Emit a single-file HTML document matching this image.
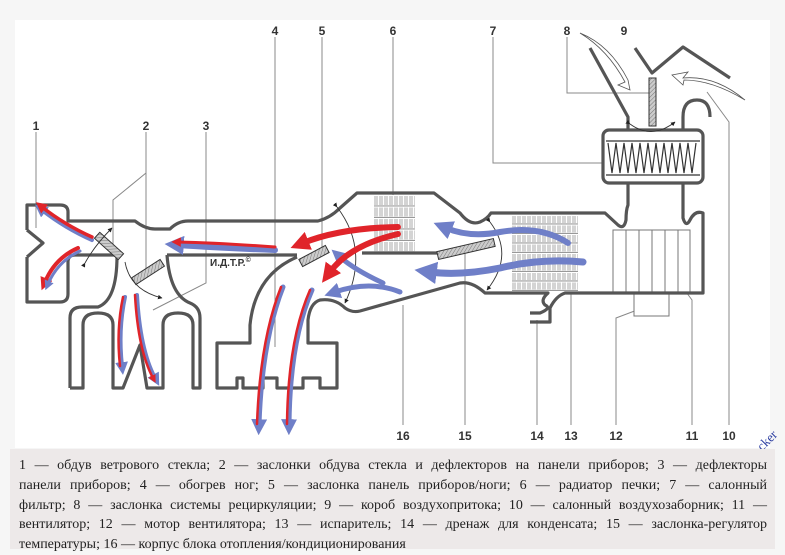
<!DOCTYPE html>
<html><head><meta charset="utf-8"><style>
html,body{margin:0;padding:0;background:#f6f6f6;width:785px;height:549px;overflow:hidden}
.cap{position:absolute;left:10px;top:449px;width:765px;height:100px;background:#ede9e9;padding:7px 8px 0 9px;box-sizing:border-box;font-family:"Liberation Serif","Noto Serif CJK SC",serif;font-size:14px;line-height:19.8px;color:#222;white-space:nowrap}
.cap div{text-align:justify;text-align-last:justify;white-space:normal}
.cap div.last{text-align-last:left}
</style></head><body>
<svg width="785" height="449" style="position:absolute;left:0;top:0" xmlns="http://www.w3.org/2000/svg">
<defs>
<pattern id="hatch" width="3" height="3" patternUnits="userSpaceOnUse" patternTransform="rotate(45)"><rect width="3" height="3" fill="#ccc"/><line x1="0" y1="0" x2="0" y2="3" stroke="#777" stroke-width="1"/></pattern>
<pattern id="grid" width="5" height="11.5" patternUnits="userSpaceOnUse" x="374" y="195"><rect width="5" height="11.5" fill="#fff"/><line x1="1" y1="1" x2="1" y2="10" stroke="#aaa" stroke-width="1"/><line x1="3" y1="1" x2="3" y2="10" stroke="#aaa" stroke-width="1"/><line x1="0" y1="11" x2="5" y2="11" stroke="#999" stroke-width="1.2"/></pattern>
<pattern id="grid2" width="5" height="9.5" patternUnits="userSpaceOnUse" x="512" y="215"><rect width="5" height="9.5" fill="#fff"/><line x1="1" y1="1" x2="1" y2="8" stroke="#aaa" stroke-width="1"/><line x1="3" y1="1" x2="3" y2="8" stroke="#aaa" stroke-width="1"/><line x1="0" y1="9" x2="5" y2="9" stroke="#999" stroke-width="1.2"/></pattern>
<marker id="ah" viewBox="0 0 10 10" refX="9" refY="5" markerWidth="5" markerHeight="5" orient="auto"><path d="M0,0 L10,5 L0,10z" fill="#222"/></marker>
<marker id="mr" viewBox="0 0 10 10" refX="3" refY="5" markerWidth="3.2" markerHeight="3.2" orient="auto"><path d="M0,0 L10,5 L0,10z" fill="#e0242a"/></marker>
<marker id="mb" viewBox="0 0 10 10" refX="3" refY="5" markerWidth="3.2" markerHeight="3.2" orient="auto"><path d="M0,0 L10,5 L0,10z" fill="#6f7fc8"/></marker>
</defs>
<rect x="15" y="20" width="755" height="428" fill="#fff"/>

<g stroke="#888" stroke-width="1" fill="none">
<path d="M36,132 V228"/>
<path d="M146,132 V275 M146,173 L113,200 V245"/>
<path d="M206,132 V283 L153,310"/>
<path d="M275,37 V347"/>
<path d="M322,37 V252"/>
<path d="M393,37 V215"/>
<path d="M493,37 V163 H612"/>
<path d="M567,37 V93 H650"/>
<path d="M729,425 V122 L707,92"/>
<path d="M692,425 V300 L672,273"/>
<path d="M616,425 V318 L645,307"/>
<path d="M571,425 V292"/>
<path d="M537,425 V320"/>
<path d="M465,425 V252"/>
<path d="M403,425 V305"/>
</g>

<rect x="374" y="195" width="41" height="57" fill="url(#grid)"/>
<rect x="512" y="215" width="66" height="76" fill="url(#grid2)"/>
<g stroke="#777" stroke-width="1" fill="#fff">
<rect x="613" y="230" width="77" height="63"/>
<path d="M626,230V293M639,230V293M652,230V293M665,230V293M678,230V293"/>
<rect x="634" y="293" width="35" height="23"/>
</g>
<rect x="603" y="130" width="100" height="53" rx="6" fill="#fff"/>
<path d="M608,143 l4,30 l4,-30 l4,30 l4,-30 l4,30 l4,-30 l4,30 l4,-30 l4,30 l4,-30 l4,30 l4,-30 l4,30 l4,-30 l4,30 l4,-30 l4,30 l4,-30 l4,30 l4,-30 l4,30 l4,-30" stroke="#333" stroke-width="1.2" fill="none"/>
<path d="M606,141H700M606,175H700" stroke="#555" stroke-width="1.5"/>

<g stroke="#555" stroke-width="3.2" fill="none" stroke-linejoin="round">
<path d="M27,230 V205 H60 Q68,205 68,212 V221 H135 Q145,229 155,229 H170 Q178,221 188,221 H318 Q330,218 340,208 L357,193 H434 L460,213 Q470,226 480,222 Q487,219 491,213 H605 L618,225 Q624,230 626,220 Q626,210 628,205 V183"/>
<path d="M27,257 V302 H60 Q68,302 68,294 V262 Q68,255 75,255 H117"/>
<path d="M27,230 L43,243 L27,257"/>
<path d="M167,255 H297"/>
<path d="M362,253 H438"/>
<path d="M117,256 Q117,300 98,307 H82 Q70,307 70,318 V388 M70,388 H83 V325 Q83,313 98,313 Q113,313 113,325 V388 H123 L140,345 L147,388 H163 V325 Q163,313 178,313 Q193,313 193,325 V388 H200 V318 Q200,307 190,303 Q170,295 167,255"/>
<path d="M297,257 Q255,275 250,325 V343 H217 V388 H237 V378 H243 V388 H263 V378 H277 V388 H303 V378 H320 V388 H337 V343 H308 V320 Q310,303 320,300 Q335,298 345,308 Q352,313 360,311 L460,283 Q472,281 485,293 H548 Q540,300 545,305 Q552,308 540,313 H530 M530,322 H550 V308 Q556,296 565,293 H703 V213 Q695,210 690,220 Q686,228 683,218 V205 Q683,195 683,183"/>
<path d="M628,130 V117 L590,48 M683,130 V117 Q683,100 697,100 Q710,100 710,117 M635,48 L652,73 L683,47 L730,78"/>
<rect x="603" y="130" width="100" height="53" rx="6"/>
</g>

<g stroke="#333" stroke-width="1" fill="url(#hatch)">
<rect x="649" y="78" width="7" height="48"/>
<rect x="-16" y="-4" width="32" height="8" transform="translate(109,246) rotate(42)"/>
<rect x="-17" y="-4" width="34" height="8" transform="translate(148,272) rotate(-33)"/>
<rect x="-15" y="-4" width="30" height="8" transform="translate(314,256) rotate(-28)"/>
<rect x="-29" y="-4" width="58" height="8" transform="translate(466,249) rotate(-13)"/>
</g>

<g stroke="#333" stroke-width="0.9" fill="none">
<path d="M85,263 Q95,245 112,228" marker-start="url(#ah)" marker-end="url(#ah)"/>
<path d="M125,262 Q130,290 162,298" marker-end="url(#ah)"/>
<path d="M337,207 Q370,250 345,303" marker-start="url(#ah)" marker-end="url(#ah)"/>
<path d="M490,222 Q515,255 487,290" marker-start="url(#ah)" marker-end="url(#ah)"/>
<path d="M630,124 Q652,140 675,122" marker-start="url(#ah)" marker-end="url(#ah)"/>
</g>
<g stroke="#555" stroke-width="0.8" fill="#fff">
<path d="M580,33 Q610,45 628,80 L630,90 L618,85 L625,82 Q608,50 580,33z"/>
<path d="M745,100 Q715,75 683,78 L688,72 L672,75 L683,85 L684,80 Q712,80 745,100z"/>
</g>

<g fill="none" stroke-linecap="round">
<path d="M92,240 Q65,228 42,210" stroke="#6f7fc8" stroke-width="4" marker-end="url(#mb)"/>
<path d="M92,237 Q65,225 42,207" stroke="#e0242a" stroke-width="3.5" marker-end="url(#mr)"/>
<path d="M78,248 Q55,258 45,282" stroke="#e0242a" stroke-width="4" marker-end="url(#mr)"/>
<path d="M80,251 Q58,261 48,284" stroke="#6f7fc8" stroke-width="3" marker-end="url(#mb)"/>
<path d="M275,250 Q220,248 178,245" stroke="#6f7fc8" stroke-width="6" marker-end="url(#mb)"/>
<path d="M275,247 Q220,243 178,242" stroke="#e0242a" stroke-width="3" marker-end="url(#mr)"/>
<path d="M125,297 Q118,330 122,366" stroke="#6f7fc8" stroke-width="4" marker-end="url(#mb)"/>
<path d="M123,297 Q116,330 120,366" stroke="#e0242a" stroke-width="2.5"/>
<path d="M137,295 Q140,350 155,378" stroke="#6f7fc8" stroke-width="4" marker-end="url(#mb)"/>
<path d="M135,295 Q138,350 153,378" stroke="#e0242a" stroke-width="2.5" marker-end="url(#mr)"/>
<path d="M283,287 Q262,340 259,424" stroke="#6f7fc8" stroke-width="5" marker-end="url(#mb)"/>
<path d="M281,287 Q260,340 257,424" stroke="#e0242a" stroke-width="2.5"/>
<path d="M312,290 Q290,340 289,424" stroke="#6f7fc8" stroke-width="5" marker-end="url(#mb)"/>
<path d="M310,290 Q288,340 287,424" stroke="#e0242a" stroke-width="2.5"/>
<path d="M398,227 Q340,228 303,243" stroke="#e0242a" stroke-width="6" marker-end="url(#mr)"/>
<path d="M383,283 Q355,270 340,257" stroke="#6f7fc8" stroke-width="5" marker-end="url(#mb)"/>
<path d="M398,234 Q350,245 330,272" stroke="#e0242a" stroke-width="6" marker-end="url(#mr)"/>
<path d="M400,292 Q370,280 335,292" stroke="#6f7fc8" stroke-width="5" marker-end="url(#mb)"/>
<path d="M568,243 Q540,225 500,232 Q470,238 446,228" stroke="#6f7fc8" stroke-width="6" marker-end="url(#mb)"/>
<path d="M583,262 Q540,258 500,268 Q460,276 430,272" stroke="#6f7fc8" stroke-width="7" marker-end="url(#mb)"/>
</g>

<text x="210" y="266" font-family="Liberation Sans,sans-serif" font-size="10" font-weight="bold" fill="#333">И.Д.Т.Р.<tspan font-size="7" dy="-4">©</tspan></text>

<g font-family="Liberation Sans,sans-serif" font-size="12" font-weight="bold" fill="#333" text-anchor="middle">
<text x="36" y="130">1</text><text x="146" y="130">2</text><text x="206" y="130">3</text>
<text x="275" y="35">4</text><text x="322" y="35">5</text><text x="393" y="35">6</text>
<text x="493" y="35">7</text><text x="567" y="35">8</text><text x="624" y="35">9</text>
<text x="403" y="440">16</text><text x="465" y="440">15</text><text x="537" y="440">14</text>
<text x="571" y="440">13</text><text x="616" y="440">12</text><text x="692" y="440">11</text>
<text x="729" y="440">10</text>
</g>
<text x="755" y="446" font-family="Liberation Serif,serif" font-size="13" fill="#2a3ca0" transform="rotate(-45 765 440)">cker</text>
</svg>
<div class="cap">
<div>1 — обдув ветрового стекла; 2 — заслонки обдува стекла и дефлекторов на панели приборов; 3 — дефлекторы</div>
<div>панели приборов; 4 — обогрев ног; 5 — заслонка панель приборов/ноги; 6 — радиатор печки; 7 — салонный</div>
<div>фильтр; 8 — заслонка системы рециркуляции; 9 — короб воздухопритока; 10 — салонный воздухозаборник; 11 —</div>
<div>вентилятор; 12 — мотор вентилятора; 13 — испаритель; 14 — дренаж для конденсата; 15 — заслонка-регулятор</div>
<div class="last">температуры; 16 — корпус блока отопления/кондиционирования</div>
</div>
</body></html>
